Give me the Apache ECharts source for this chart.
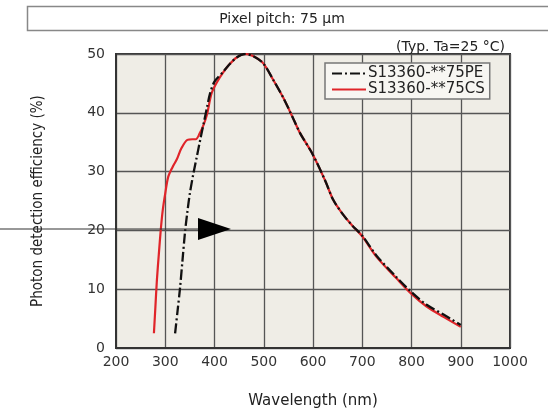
<!DOCTYPE html>
<html>
<head>
<meta charset="utf-8">
<script src="https://cdn.jsdelivr.net/npm/echarts@6/dist/echarts.min.js"></script>
<style>
  html, body { margin: 0; padding: 0; background: #fff; }
  #chart { width: 548px; height: 409px; }
</style>
</head>
<body>
<div id="chart"></div>
<script>
// S13360-**75CS (red)
var wavelengthCS = [277, 280, 283, 287, 291, 295, 300, 306, 315, 323, 333, 345, 355, 362, 370, 378, 385, 394, 405, 418, 430, 445, 462, 479, 499, 520, 540, 560, 574, 599, 624, 641, 660, 680, 700, 729, 770, 800, 830, 865, 900];
var pdeCS        = [2.5, 7, 11.5, 16, 20.2, 23.5, 26.3, 29.1, 30.8, 32, 34, 35.4, 35.5, 35.5, 36.5, 38, 39.8, 43.3, 45.2, 46.9, 48.2, 49.4, 50, 49.6, 48.4, 45.5, 42.5, 39, 36.5, 33, 28.6, 25.2, 22.8, 20.8, 19, 15.5, 11.8, 9.2, 7.1, 5.3, 3.6];
// S13360-**75PE (black dash-dot)
var wavelengthPE = [320, 325, 330, 335, 340, 345, 350, 357, 364, 371, 378, 385, 391, 400, 418, 430, 445, 462, 479, 499, 520, 540, 560, 574, 599, 624, 641, 660, 680, 700, 729, 770, 800, 830, 865, 900];
var pdePE        = [2.5, 6.3, 10.2, 14.9, 19.6, 23.2, 26.3, 29.6, 32.5, 35.4, 38.2, 41, 43.3, 45.3, 47, 48.2, 49.4, 50, 49.6, 48.4, 45.5, 42.5, 39, 36.5, 33, 28.6, 25.2, 22.8, 20.8, 19.1, 15.7, 12, 9.5, 7.4, 5.7, 3.9];

function pairs(xs, ys) {
    var out = [];
    for (var i = 0; i < xs.length; i++) out.push([xs[i], ys[i]]);
    return out;
}

var myChart = echarts.init(document.getElementById('chart'));
myChart.setOption({
    animation: false,
    backgroundColor: '#fff',
    title: [
        {
            text: 'Pixel pitch: 75 µm',
            left: 277, top: 7, textAlign: 'center',
            textStyle: {fontFamily: 'DejaVu Sans', fontSize: 14, fontWeight: 'normal', color: '#222'}
        },
        {
            text: '(Typ. Ta=25 °C)',
            right: 38, top: 35,
            textStyle: {fontFamily: 'DejaVu Sans', fontSize: 14, fontWeight: 'normal', color: '#222'}
        }
    ],
    legend: {
        orient: 'vertical',
        left: 325, top: 63,
        padding: [3, 5, 2, 6],
        itemGap: 1,
        itemWidth: 34, itemHeight: 15,
        backgroundColor: '#f7f6f2',
        borderColor: '#777', borderWidth: 1.5,
        itemStyle: {opacity: 0},
        textStyle: {fontFamily: 'DejaVu Sans', fontSize: 15, color: '#222', padding: [0, 0, 0, -3]},
        data: ['S13360-**75PE', 'S13360-**75CS']
    },
    grid: {
        left: 116, top: 54, width: 394, height: 294,
        outerBoundsMode: 'none',
        show: true, backgroundColor: '#efede6', borderColor: '#333', borderWidth: 2
    },
    xAxis: {
        type: 'value', min: 200, max: 1000, interval: 100,
        name: 'Wavelength (nm)', nameLocation: 'middle', nameGap: 46,
        nameTextStyle: {fontFamily: 'DejaVu Sans', fontSize: 15, color: '#222'},
        axisLine: {lineStyle: {color: '#333', width: 2}},
        axisTick: {show: false},
        splitLine: {lineStyle: {color: '#555', width: 1.3}},
        axisLabel: {fontFamily: 'DejaVu Sans', fontSize: 14, color: '#333', margin: 7,
            formatter: function (v) { return String(v); }}
    },
    yAxis: {
        type: 'value', min: 0, max: 50, interval: 10,
        name: 'Photon detection efficiency (%)', nameLocation: 'middle', nameGap: 70,
        nameTextStyle: {fontFamily: '"DejaVu Sans Condensed", "Liberation Sans", sans-serif', fontSize: 15, color: '#222'},
        axisLine: {lineStyle: {color: '#333', width: 2}},
        axisTick: {show: false},
        splitLine: {lineStyle: {color: '#555', width: 1.3}},
        axisLabel: {fontFamily: 'DejaVu Sans', fontSize: 14, color: '#333', margin: 11}
    },
    series: [
        {
            name: 'S13360-**75PE',
            type: 'line',
            showSymbol: false, symbol: 'none',
            smooth: 0.3,
            z: 3,
            color: '#111',
            lineStyle: {color: '#111', width: 2.3, type: [10, 3, 2, 3]},
            data: pairs(wavelengthPE, pdePE)
        },
        {
            name: 'S13360-**75CS',
            type: 'line',
            showSymbol: false, symbol: 'none',
            smooth: 0.3,
            z: 2,
            color: '#e0252a',
            lineStyle: {color: '#e0252a', width: 2.2},
            data: pairs(wavelengthCS, pdeCS)
        }
    ],
    graphic: [
        {
            type: 'rect', left: 25, top: 4, silent: true,
            shape: {width: 530, height: 24},
            style: {fill: 'none', stroke: '#888', lineWidth: 1.5}
        },
        {
            type: 'line', silent: true, z: 10,
            shape: {x1: 0, y1: 229, x2: 200, y2: 229},
            style: {stroke: '#333', lineWidth: 1.2}
        },
        {
            type: 'polygon', silent: true, z: 10,
            shape: {points: [[198, 218], [231, 229], [198, 240]]},
            style: {fill: '#000'}
        }
    ]
});
</script>
</body>
</html>
